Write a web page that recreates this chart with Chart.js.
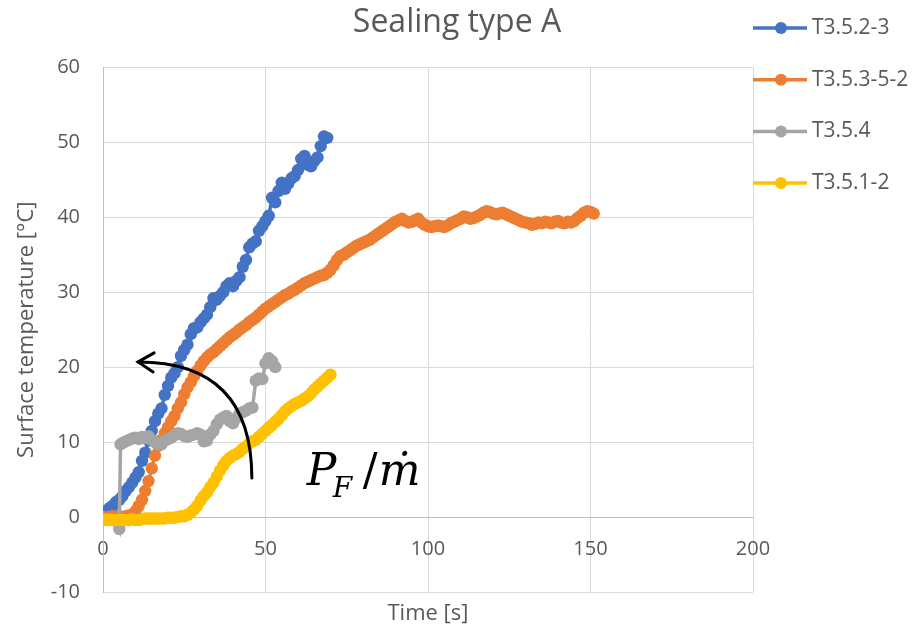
<!DOCTYPE html>
<html>
<head>
<meta charset="utf-8">
<script src="https://cdn.jsdelivr.net/npm/chart.js@4"></script>
<style>
  body { margin: 0; background: #fff; }
  canvas { display: block; }
</style>
</head>
<body>
<canvas id="chart" width="914" height="632"></canvas>
<script>
// --- data (time in s, temperature in °C) ---
const seriesNames = ['T3.5.2-3', 'T3.5.3-5-2', 'T3.5.4', 'T3.5.1-2'];
const seriesColors = ['#4472C4', '#ED7D31', '#A5A5A5', '#FFC000'];

const blueTime = [0,1,2,3,4,5,6,7,8,9,10,11,12,13,14,15,16,17,18,19,20,21,22,23,24,25,26,27,28,29,
  30,31,32,33,34,35,36,37,38,39,40,41,42,43,44,45,46,47,48,49,50,51,52,53,54,55,56,57,58,59,
  60,61,62,63,64,65,66,67,68,69];
const blueTemp = [-0.2,0.8,1.2,1.5,2.0,2.3,2.8,3.5,4.0,4.6,5.3,6.0,7.5,8.6,10.2,11.5,12.8,13.8,14.5,16.3,
  17.5,18.6,19.2,20.0,21.5,22.3,23.0,24.4,25.2,25.3,26.0,26.5,27.0,28.0,29.2,29.0,29.5,30.0,30.8,31.2,
  30.8,31.5,32.0,33.4,34.3,36.0,36.5,36.8,38.2,38.8,39.5,40.2,42.6,42.0,43.5,44.6,43.8,44.5,45.2,45.5,
  46.3,47.8,48.2,47.0,46.8,47.5,48.0,49.5,50.8,50.6];

const orangeTime = [0,1,2,3,4,5,6,7,8,9,10,11,12,13,14,15,16,17,18,19,20,21,22,23,24,25,26,27,28,29,
  30,31,32,33,34,35,36,37,38,39,40,41,42,43,44,45,46,47,48,49,50,51,52,53,54,55,56,57,58,59,
  60,61,62,63,64,65,66,67,68,69,70,71,72,73,74,75,76,77,78,79,80,81,82,83,84,85,86,87,88,89,
  90,91,92,93,94,95,96,97,98,99,100,101,102,103,104,105,106,107,108,109,110,111,112,113,114,115,116,117,118,119,
  120,121,122,123,124,125,126,127,128,129,130,131,132,133,134,135,136,137,138,139,140,141,142,143,144,145,146,147,148,149,
  150,151];
const orangeTemp = [0.0,-0.1,0.0,0.1,0.0,0.1,0.0,0.1,0.2,0.3,0.8,1.5,2.3,3.5,4.8,6.5,8.2,9.5,10.3,11.2,
  12.0,12.8,13.5,14.5,15.3,16.4,17.3,18.0,18.8,19.5,20.2,20.8,21.3,21.7,22.0,22.4,22.8,23.2,23.6,24.0,
  24.3,24.6,25.0,25.3,25.6,26.0,26.3,26.6,27.0,27.4,27.8,28.1,28.4,28.7,29.0,29.3,29.6,29.8,30.1,30.3,
  30.6,30.9,31.2,31.4,31.6,31.8,32.0,32.2,32.3,32.6,33.0,33.6,34.3,34.8,35.0,35.3,35.6,35.9,36.2,36.4,
  36.6,36.8,37.0,37.3,37.6,37.9,38.2,38.5,38.8,39.1,39.4,39.6,39.8,39.5,39.3,39.4,39.6,39.8,39.3,39.0,
  38.8,38.7,38.8,38.9,38.8,38.7,38.9,39.2,39.4,39.6,39.8,40.1,40.0,39.8,39.9,40.1,40.3,40.6,40.8,40.7,
  40.5,40.4,40.5,40.6,40.4,40.2,40.0,39.8,39.6,39.4,39.3,39.2,39.0,39.1,39.3,39.2,39.4,39.3,39.2,39.4,
  39.5,39.3,39.2,39.4,39.3,39.5,39.9,40.2,40.6,40.8,40.7,40.5];

const greyTime = [0,1,2,3,4,5,5.4,6,7,8,9,10,11,12,13,14,15,16,17,18,19,20,21,22,23,24,25,26,27,28,29,
  30,31,32,33,34,35,36,37,38,39,40,41,42,43,44,45,46,47,48,49,50,51,52,53];
const greyTemp = [-0.2,-0.3,-0.3,-0.4,-0.5,-1.6,9.7,9.9,10.1,10.3,10.5,10.6,10.4,10.7,10.5,10.8,10.3,10.0,9.7,9.7,
  10.2,10.4,10.6,10.9,11.2,11.1,10.8,10.7,10.9,11.0,11.2,11.0,10.1,10.2,11.0,11.5,12.4,13.0,13.3,13.5,
  12.8,12.5,13.2,13.8,14.0,14.2,14.5,14.6,18.2,18.5,18.4,20.5,21.2,20.8,20.0];

const yellowTime = [0,1,2,3,4,5,6,7,8,9,10,11,12,13,14,15,16,17,18,19,20,21,22,23,24,25,26,27,28,29,
  30,31,32,33,34,35,36,37,38,39,40,41,42,43,44,45,46,47,48,49,50,51,52,53,54,55,56,57,58,59,
  60,61,62,63,64,65,66,67,68,69,70];
const yellowTemp = [-0.4,-0.4,-0.4,-0.4,-0.4,-0.4,-0.4,-0.4,-0.4,-0.3,-0.4,-0.4,-0.3,-0.2,-0.2,-0.2,-0.2,-0.2,-0.2,-0.2,
  -0.1,-0.1,-0.1,0.0,0.1,0.1,0.3,0.6,1.0,1.5,2.2,2.8,3.3,4.0,4.6,5.4,6.2,6.9,7.5,7.9,
  8.2,8.4,8.7,9.1,9.4,9.8,10.1,10.3,10.7,11.1,11.5,11.9,12.3,12.7,13.1,13.6,14.1,14.5,14.8,15.1,
  15.3,15.5,15.8,16.1,16.5,17.0,17.4,17.8,18.2,18.6,19.0];

const xTicks = [0, 50, 100, 150, 200];
const yTicks = [-10, 0, 10, 20, 30, 40, 50, 60];

const textColor = '#595959';
const gridColor = '#d9d9d9';
Chart.defaults.font.family = 'Open Sans';

function toPoints(times, temps) {
  return times.map((t, i) => ({ x: t, y: temps[i] }));
}

const allTimes = [blueTime, orangeTime, greyTime, yellowTime];
const allTemps = [blueTemp, orangeTemp, greyTemp, yellowTemp];

const datasets = seriesNames.map((name, i) => ({
  label: name,
  data: toPoints(allTimes[i], allTemps[i]),
  borderColor: seriesColors[i],
  backgroundColor: seriesColors[i],
  borderWidth: 3.5,
  pointRadius: 6.2,
  pointBorderWidth: 0,
  pointBackgroundColor: seriesColors[i],
  tension: 0,
  order: seriesNames.length - i
}));

// legend on the right, line + marker like the original
const sideLegend = {
  id: 'sideLegend',
  afterDraw(chart) {
    const ctx = chart.ctx;
    ctx.save();
    chart.data.datasets.forEach((ds, i) => {
      const y = 28 + i * 51.7;
      ctx.strokeStyle = ds.borderColor;
      ctx.lineWidth = 3.5;
      ctx.beginPath();
      ctx.moveTo(753, y);
      ctx.lineTo(807, y);
      ctx.stroke();
      ctx.fillStyle = ds.borderColor;
      ctx.beginPath();
      ctx.arc(781, y, 6, 0, Math.PI * 2);
      ctx.fill();
      ctx.fillStyle = textColor;
      ctx.font = '21px "Open Sans"';
      ctx.textAlign = 'left';
      ctx.textBaseline = 'middle';
      ctx.fillText(ds.label, 812, y);
    });
    ctx.restore();
  }
};

// curved arrow and the P_F / m-dot note
const arrowNote = {
  id: 'arrowNote',
  afterDatasetsDraw(chart) {
    const {ctx, scales: {x, y}} = chart;
    const p0 = [x.getPixelForValue(45.8), y.getPixelForValue(5.2)];
    const c = [x.getPixelForValue(45.8), y.getPixelForValue(20.7)];
    const p1 = [x.getPixelForValue(10.8), y.getPixelForValue(20.7)];
    ctx.save();
    ctx.strokeStyle = '#000';
    ctx.lineWidth = 3;
    ctx.lineCap = 'round';
    ctx.beginPath();
    ctx.moveTo(p0[0], p0[1]);
    ctx.quadraticCurveTo(c[0], c[1], p1[0], p1[1]);
    ctx.stroke();
    ctx.beginPath();
    ctx.moveTo(p1[0] + 16, p1[1] - 9);
    ctx.lineTo(p1[0], p1[1]);
    ctx.lineTo(p1[0] + 15, p1[1] + 10);
    ctx.stroke();

    const bx = x.getPixelForValue(62.7);
    const by = y.getPixelForValue(4.3);
    ctx.fillStyle = '#000';
    ctx.textBaseline = 'alphabetic';
    ctx.textAlign = 'left';
    ctx.font = 'italic 44px "DejaVu Serif"';
    ctx.fillText('P', bx, by);
    ctx.font = 'italic 28px "DejaVu Serif"';
    ctx.fillText('F', bx + 26, by + 12);
    ctx.font = '44px "DejaVu Serif"';
    ctx.fillText('/', bx + 56, by);
    ctx.font = 'italic 44px "DejaVu Serif"';
    ctx.fillText('\u1E41', bx + 72, by);
    ctx.restore();
  }
};

new Chart(document.getElementById('chart'), {
  type: 'line',
  data: { datasets: datasets },
  plugins: [sideLegend, arrowNote],
  options: {
    responsive: false,
    animation: false,
    events: [],
    layout: { padding: 0 },
    plugins: {
      legend: { display: false },
      tooltip: { enabled: false },
      title: {
        display: true,
        text: 'Sealing type A',
        color: textColor,
        font: { size: 32, weight: 'normal' },
        padding: { top: 4, bottom: 25 }
      }
    },
    scales: {
      x: {
        type: 'linear',
        position: { y: 0 },
        min: 0,
        max: 200,
        afterBuildTicks: s => { s.ticks = xTicks.map(v => ({ value: v })); },
        ticks: { color: textColor, font: { size: 20 }, padding: 20, maxRotation: 0 },
        grid: { color: gridColor, drawTicks: false },
        border: { color: '#bfbfbf' }
      },
      xt: {
        type: 'linear',
        position: 'bottom',
        min: 0,
        max: 200,
        ticks: { display: false },
        grid: { display: false, drawTicks: false },
        border: { display: false },
        title: { display: true, text: 'Time [s]', color: textColor, font: { size: 22 }, padding: { top: 0, bottom: 5 } },
        afterFit: s => { s.height = 40; }
      },
      y: {
        type: 'linear',
        position: 'left',
        min: -10,
        max: 60,
        afterBuildTicks: s => { s.ticks = yTicks.map(v => ({ value: v })); },
        ticks: { color: textColor, font: { size: 20 }, padding: 23 },
        grid: { color: gridColor, drawTicks: false },
        border: { color: '#bfbfbf' },
        title: { display: true, text: 'Surface temperature [°C]', color: textColor, font: { size: 22 }, padding: { top: 14, bottom: 0 } },
        afterFit: s => { s.width = 103; }
      },
      // empty strip on the right that holds the legend
      yr: {
        type: 'linear',
        position: 'right',
        min: -10,
        max: 60,
        ticks: { display: false },
        grid: { display: false, drawTicks: false },
        border: { display: false },
        afterFit: s => { s.width = 161; }
      }
    }
  }
});
</script>
</body>
</html>
